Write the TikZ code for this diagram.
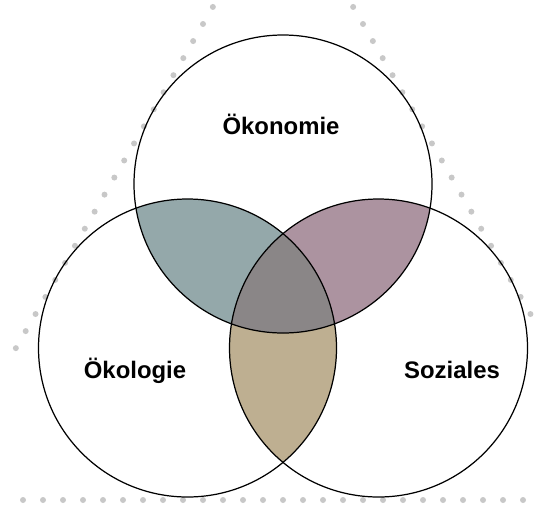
\documentclass[tikz,border=0pt]{standalone}
\usepackage{fontspec}
\setmainfont{Liberation Sans}
\usepackage{xcolor}
\usepackage{tikz}
\usetikzlibrary{calc,positioning,backgrounds}

\definecolor{lensblue}{HTML}{94A8AA}
\definecolor{lensmauve}{HTML}{AC93A0}
\definecolor{lenstan}{HTML}{BEAF91}
\definecolor{lenscore}{HTML}{8A8687}
\definecolor{dotgray}{HTML}{C8C8C8}

\tikzset{
    ring/.style={draw, line width=0.7pt},
    label/.style={font=\fontsize{13.6}{16}\selectfont\bfseries, anchor=base},
    pip/.style={fill=dotgray}
}

\begin{document}
\begin{tikzpicture}[x=0.02cm, y=0.02cm]
    \useasboundingbox (0,0) rectangle (536,505);
    \coordinate (oeko) at (283,321);
    \coordinate (oekl) at (187.5,157);
    \coordinate (soz) at (378.5,157);

    % dotted triangle
    \foreach \x in {23,43,...,523}
        \fill[pip] (\x,5) circle (3);
    \foreach \k in {-1,...,19} {
        \fill[pip] ($(203,481)+(-9.85*\k,-17.06*\k)$) circle (3);
        \fill[pip] ($(363,481)+(9.85*\k,-17.06*\k)$) circle (3);
    }

    % overlaps
    \begin{scope}
        \clip (oeko) circle (149);
        \fill[lensblue] (oekl) circle (149);
        \fill[lensmauve] (soz) circle (149);
    \end{scope}
    \begin{scope}
        \clip (oekl) circle (149);
        \fill[lenstan] (soz) circle (149);
        \clip (soz) circle (149);
        \fill[lenscore] (oeko) circle (149);
    \end{scope}

    \draw[ring] (oeko) circle (149);
    \draw[ring] (oekl) circle (149);
    \draw[ring] (soz) circle (149);

    \node[label] (ok) at (281,371) {Ökonomie};
    \node[label] (ol) at (135,127) {Ökologie};
    \node[label] (so) at (452,127) {Soziales};
\end{tikzpicture}
\end{document}
